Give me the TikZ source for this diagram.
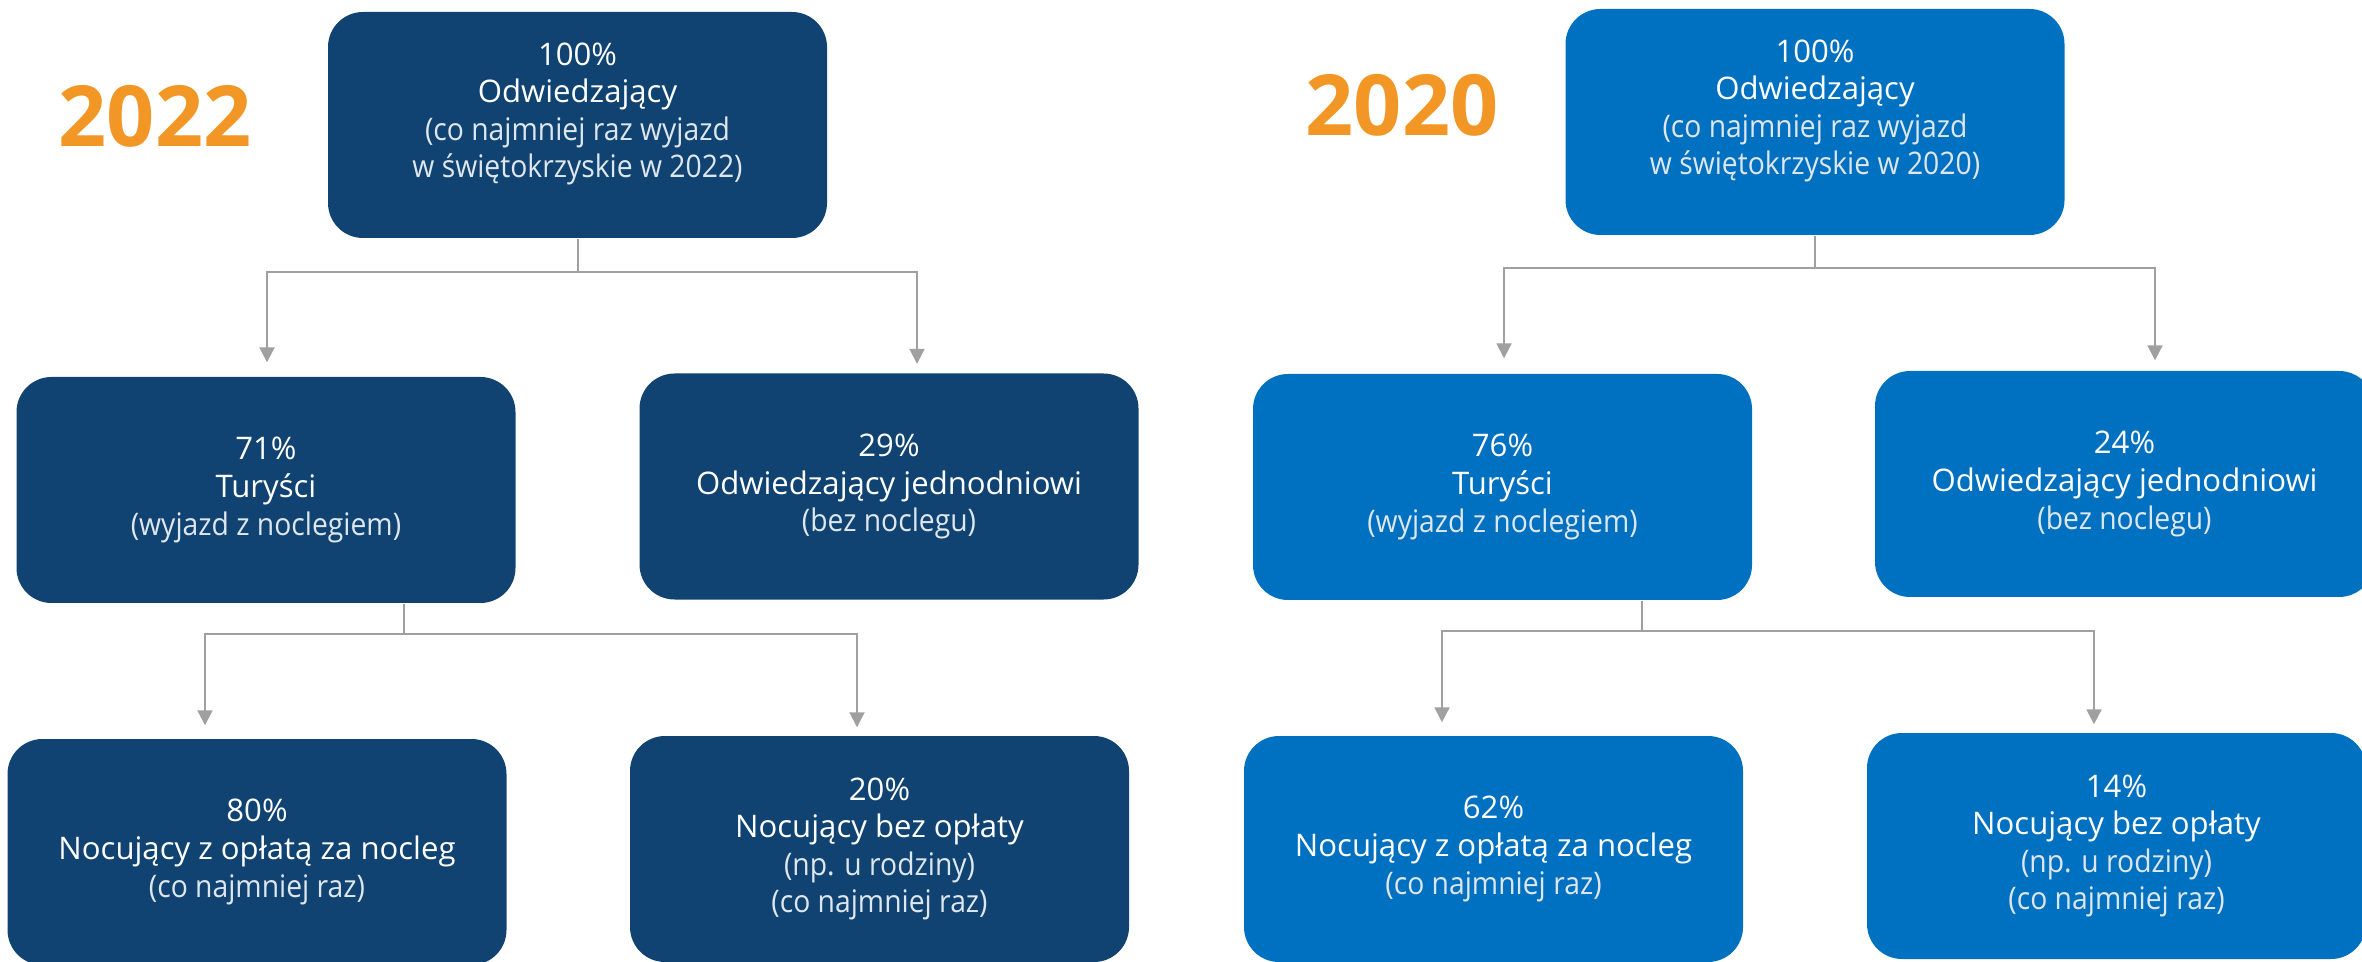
\documentclass[tikz,border=0pt]{standalone}
\usepackage{fontspec}
\setmainfont{Open Sans}
\newfontfamily\subfont{Open Sans}[FakeStretch=0.91]
\usepackage{tikz}
\usetikzlibrary{positioning, arrows.meta}
\definecolor{darkblue}{RGB}{16,67,114}
\definecolor{lightblue}{RGB}{0,112,192}
\definecolor{yearorange}{RGB}{242,151,38}
\definecolor{linegray}{RGB}{160,160,160}
\definecolor{subwhite}{RGB}{222,230,238}
\newcommand{\subtxt}[1]{{\subfont\color{subwhite}#1}}
\tikzset{
	box/.style={rectangle, rounded corners=0.35cm, minimum width=4.99cm, minimum height=2.26cm, inner sep=0pt, align=center, text=white, font=\fontsize{8.85pt}{10.7pt}\selectfont},
	box22/.style={box, fill=darkblue},
	box20/.style={box, fill=lightblue},
	year/.style={text=yearorange, font=\fontsize{24pt}{28pt}\selectfont\bfseries},
	link/.style={draw=linegray, line width=0.02cm},
	arrow/.style={link, -{Triangle[width=0.15cm, length=0.15cm]}},
}

\begin{document}
\begin{tikzpicture}
			\useasboundingbox (0, 0) rectangle (23.62, -9.62);
			\node	(y22)	at	(1.55, -1.16)		[year]	{2022};
			\node	(odw22)	at	(5.775, -1.25)		[box22]	{100\%\\Odwiedzający\\\subtxt{(co najmniej raz wyjazd}\\\subtxt{w świętokrzyskie w 2022)}\\[-0.08cm]\mbox{}};
			\node	(tur22)	at	(2.66, -4.90)		[box22]	{71\%\\Turyści\\\subtxt{(wyjazd z noclegiem)}};
			\node	(jed22)	at	(8.89, -4.865)		[box22]	{29\%\\Odwiedzający jednodniowi\\\subtxt{(bez noclegu)}};
			\node	(opl22)	at	(2.57, -8.52)		[box22]	{80\%\\Nocujący z opłatą za nocleg\\\subtxt{(co najmniej raz)}};
			\node	(bez22)	at	(8.795, -8.49)		[box22]	{20\%\\Nocujący bez opłaty\\\subtxt{(np. u rodziny)}\\\subtxt{(co najmniej raz)}};
			\draw	[link]	(odw22.south) -- ++(0, -0.33)	coordinate (s22);
			\draw	[arrow]	(s22) -| ([xshift=0.01cm, yshift=0.14cm]tur22.north);
			\draw	[arrow]	(s22) -| ([xshift=0.28cm, yshift=0.09cm]jed22.north);
			\draw	[link]	([xshift=1.38cm]tur22.south) -- ++(0, -0.30)	coordinate (t22);
			\draw	[arrow]	(t22) -| ([xshift=-0.52cm, yshift=0.13cm]opl22.north);
			\draw	[arrow]	(t22) -| ([xshift=-0.225cm, yshift=0.08cm]bez22.north);

			\node	(y20)	at	(14.02, -1.05)		[year]	{2020};
			\node	(odw20)	at	(18.15, -1.22)		[box20]	{100\%\\Odwiedzający\\\subtxt{(co najmniej raz wyjazd}\\\subtxt{w świętokrzyskie w 2020)}\\[-0.08cm]\mbox{}};
			\node	(tur20)	at	(15.025, -4.87)		[box20]	{76\%\\Turyści\\\subtxt{(wyjazd z noclegiem)}};
			\node	(jed20)	at	(21.245, -4.84)		[box20]	{24\%\\Odwiedzający jednodniowi\\\subtxt{(bez noclegu)}};
			\node	(opl20)	at	(14.935, -8.49)		[box20]	{62\%\\Nocujący z opłatą za nocleg\\\subtxt{(co najmniej raz)}};
			\node	(bez20)	at	(21.165, -8.46)		[box20]	{14\%\\Nocujący bez opłaty\\\subtxt{(np. u rodziny)}\\\subtxt{(co najmniej raz)}};
			\draw	[link]	(odw20.south) -- ++(0, -0.32)	coordinate (s20);
			\draw	[arrow]	(s20) -| ([xshift=0.015cm, yshift=0.15cm]tur20.north);
			\draw	[arrow]	(s20) -| ([xshift=0.305cm, yshift=0.10cm]jed20.north);
			\draw	[link]	([xshift=1.395cm]tur20.south) -- ++(0, -0.30)	coordinate (t20);
			\draw	[arrow]	(t20) -| ([xshift=-0.515cm, yshift=0.13cm]opl20.north);
			\draw	[arrow]	(t20) -| ([xshift=-0.225cm, yshift=0.08cm]bez20.north);
		\end{tikzpicture}
\end{document}
